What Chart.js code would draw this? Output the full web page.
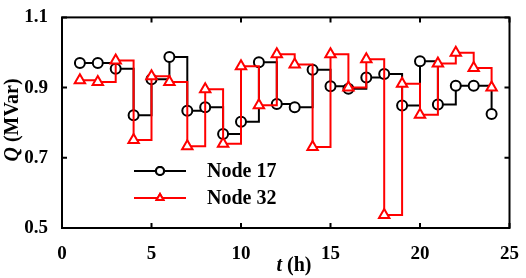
<!DOCTYPE html>
<html>
<head>
<meta charset="utf-8">
<script src="https://cdn.jsdelivr.net/npm/chart.js@4.4.1/dist/chart.umd.min.js"></script>
<style>
  html, body { margin: 0; padding: 0; background: #fff; }
  #wrap { width: 526px; height: 278px; position: relative; }
</style>
</head>
<body>
<div id="wrap"><canvas id="chart"></canvas></div>
<script>
// Hours and reactive power (MVar)
const hours = [1, 2, 3, 4, 5, 6, 7, 8, 9, 10, 11, 12, 13, 14, 15, 16, 17, 18, 19, 20, 21, 22, 23, 24];
const node17 = [0.970, 0.970, 0.954, 0.821, 0.924, 0.987, 0.834, 0.844, 0.768, 0.803, 0.972, 0.853,
                0.844, 0.951, 0.904, 0.897, 0.929, 0.939, 0.849, 0.975, 0.852, 0.905, 0.905, 0.825];
const node32 = [0.921, 0.916, 0.977, 0.751, 0.932, 0.916, 0.733, 0.895, 0.740, 0.961, 0.850, 0.995,
                0.966, 0.731, 0.995, 0.900, 0.981, 0.537, 0.911, 0.823, 0.969, 0.999, 0.956, 0.900];
const xTicks = [0, 5, 10, 15, 20, 25];
const yTicks = [0.5, 0.7, 0.9, 1.1];

const FONT = "'Liberation Serif', 'Times New Roman', serif";

const toPoints = (ys) => hours.map((h, i) => ({ x: h, y: ys[i] }));

// frame, inward ticks, axis titles and legend
const decorPlugin = {
    id: 'decor',
    afterDatasetsDraw(chart) {
        const { ctx, chartArea: a, scales } = chart;
        ctx.save();
        ctx.strokeStyle = '#000';
        ctx.lineWidth = 2;
        ctx.strokeRect(a.left, a.top, a.right - a.left, a.bottom - a.top);

        const t = 5;
        ctx.beginPath();
        xTicks.forEach(v => {
            const px = scales.x.getPixelForValue(v);
            ctx.moveTo(px, a.bottom); ctx.lineTo(px, a.bottom - t);
            ctx.moveTo(px, a.top); ctx.lineTo(px, a.top + t);
        });
        yTicks.forEach(v => {
            const py = scales.y.getPixelForValue(v);
            ctx.moveTo(a.left, py); ctx.lineTo(a.left + t, py);
            ctx.moveTo(a.right, py); ctx.lineTo(a.right - t, py);
        });
        ctx.stroke();

        // x title: italic t + " (h)"
        ctx.fillStyle = '#000';
        ctx.textBaseline = 'middle';
        const italic = `italic bold 20px ${FONT}`;
        const bold = `bold 20px ${FONT}`;
        ctx.font = italic;
        const w1 = ctx.measureText('t').width;
        ctx.font = bold;
        const w2 = ctx.measureText(' (h)').width;
        const x0 = 294 - (w1 + w2) / 2;
        ctx.textAlign = 'left';
        ctx.font = italic; ctx.fillText('t', x0, 266);
        ctx.font = bold; ctx.fillText(' (h)', x0 + w1, 266);

        // y title: italic Q + " (MVar)", rotated
        ctx.save();
        ctx.translate(13, 120);
        ctx.rotate(-Math.PI / 2);
        ctx.font = italic;
        const q1 = ctx.measureText('Q').width;
        ctx.font = bold;
        const q2 = ctx.measureText(' (MVar)').width;
        const y0 = -(q1 + q2) / 2;
        ctx.font = italic; ctx.fillText('Q', y0, 0);
        ctx.font = bold; ctx.fillText(' (MVar)', y0 + q1, 0);
        ctx.restore();

        // legend
        const items = [
            { label: 'Node 17', color: '#000', style: 'circle', y: 171 },
            { label: 'Node 32', color: '#ff0000', style: 'triangle', y: 198 }
        ];
        items.forEach(it => {
            ctx.strokeStyle = it.color;
            ctx.lineWidth = 2;
            ctx.beginPath();
            ctx.moveTo(134, it.y); ctx.lineTo(186, it.y);
            ctx.stroke();
            ctx.fillStyle = '#fff';
            Chart.helpers.drawPoint(ctx, { pointStyle: it.style, radius: 4, borderWidth: 2, rotation: 0 }, 160, it.y);
            ctx.fill();
            ctx.stroke();
            ctx.fillStyle = '#000';
            ctx.font = `bold 20px ${FONT}`;
            ctx.textAlign = 'left';
            ctx.fillText(it.label, 207, it.y + 1);
        });
        ctx.restore();
    }
};

new Chart(document.getElementById('chart'), {
    type: 'line',
    data: {
        datasets: [
            {
                label: 'Node 17',
                data: toPoints(node17),
                stepped: 'before',
                borderColor: '#000',
                borderWidth: 2,
                pointStyle: 'circle',
                pointRadius: 5,
                pointBorderWidth: 2,
                pointBackgroundColor: '#fff',
                pointBorderColor: '#000',
                order: 1
            },
            {
                label: 'Node 32',
                data: toPoints(node32),
                stepped: 'before',
                borderColor: '#ff0000',
                borderWidth: 2,
                pointStyle: 'triangle',
                pointRadius: 6,
                pointBorderWidth: 2,
                pointBackgroundColor: '#fff',
                pointBorderColor: '#ff0000',
                order: 0
            }
        ]
    },
    options: {
        responsive: true,
        maintainAspectRatio: false,
        animation: false,
        layout: { padding: { top: 6, right: 14, left: 0, bottom: 0 } },
        plugins: {
            legend: { display: false },
            tooltip: { enabled: false }
        },
        scales: {
            x: {
                type: 'linear',
                min: 0,
                max: 25,
                grid: { display: false },
                border: { display: false },
                afterBuildTicks: (s) => { s.ticks = xTicks.map(v => ({ value: v })); },
                afterFit: (s) => { s.height = 50; },
                ticks: {
                    padding: 7,
                    color: '#000',
                    font: { family: FONT, size: 19, weight: 'bold' },
                    maxRotation: 0
                }
            },
            y: {
                min: 0.5,
                max: 1.1,
                grid: { display: false },
                border: { display: false },
                afterBuildTicks: (s) => { s.ticks = yTicks.map(v => ({ value: v })); },
                afterFit: (s) => { s.width = 62; },
                ticks: {
                    padding: 6,
                    color: '#000',
                    font: { family: FONT, size: 19, weight: 'bold' },
                    callback: (v) => v.toFixed(1)
                }
            }
        }
    },
    plugins: [decorPlugin]
});
</script>
</body>
</html>
